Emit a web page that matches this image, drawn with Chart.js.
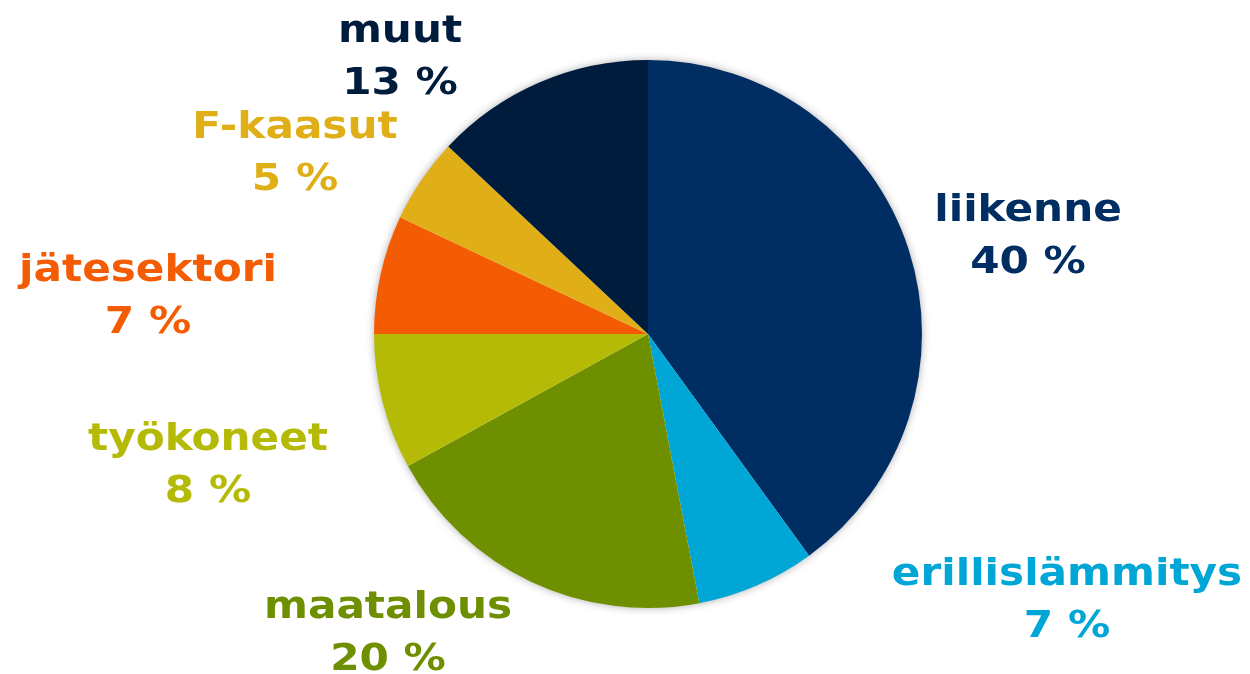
<!DOCTYPE html>
<html>
<head>
<meta charset="utf-8">
<script src="https://cdn.jsdelivr.net/npm/chart.js@4"></script>
<style>
html,body{margin:0;padding:0;background:#fff;}
#wrap{width:1250px;height:674px;position:relative;}
</style>
</head>
<body>
<div id="wrap"><canvas id="c" width="1250" height="674"></canvas></div>
<script>
const categories = ["liikenne", "erillislämmitys", "maatalous", "työkoneet", "jätesektori", "F-kaasut", "muut"];
const shares = [40, 7, 20, 8, 7, 5, 13];
const percentLabels = ["40 %", "7 %", "20 %", "8 %", "7 %", "5 %", "13 %"];
const sliceColors = ["#002D62", "#00A6D6", "#6E8F00", "#B4BA05", "#F45C03", "#E0AE16", "#001C3D"];

// label anchor placement (x centre, baseline of first line) – layout only
const labelPlacement = [
  [1028, 221], [1067, 585], [388, 618], [208, 450], [148, 281], [295, 138], [400, 42]
];

const shadowPlugin = {
  id: 'pieShadow',
  beforeDatasetsDraw(chart) {
    const arc = chart.getDatasetMeta(0).data[0];
    if (!arc) return;
    const ctx = chart.ctx;
    ctx.save();
    ctx.shadowColor = 'rgba(0,0,0,0.35)';
    ctx.shadowBlur = 9;
    ctx.shadowOffsetX = 0;
    ctx.shadowOffsetY = 0;
    ctx.fillStyle = '#ffffff';
    ctx.beginPath();
    ctx.arc(arc.x, arc.y, arc.outerRadius - 0.5, 0, Math.PI * 2);
    ctx.fill();
    ctx.restore();
  }
};

const labelPlugin = {
  id: 'sliceLabels',
  afterDraw(chart) {
    const ctx = chart.ctx;
    const labels = chart.data.labels;
    const ds = chart.data.datasets[0];
    const sx = 1.11;
    ctx.save();
    ctx.font = 'bold 38px "DejaVu Sans", Verdana, sans-serif';
    ctx.textAlign = 'center';
    ctx.textBaseline = 'alphabetic';
    labels.forEach((lab, i) => {
      const p = labelPlacement[i];
      ctx.fillStyle = ds.backgroundColor[i];
      ctx.save();
      ctx.translate(p[0], p[1]);
      ctx.scale(sx, 1);
      ctx.fillText(lab, 0, 0);
      ctx.fillText(percentLabels[i], 0, 52);
      ctx.restore();
    });
    ctx.restore();
  }
};

new Chart(document.getElementById('c'), {
  type: 'pie',
  data: {
    labels: categories,
    datasets: [{
      data: shares,
      backgroundColor: sliceColors,
      borderWidth: 0
    }]
  },
  options: {
    responsive: false,
    animation: false,
    layout: { padding: { left: 374, right: 328, top: 60, bottom: 66 } },
    plugins: { legend: { display: false }, tooltip: { enabled: false } }
  },
  plugins: [shadowPlugin, labelPlugin]
});
</script>
</body>
</html>
